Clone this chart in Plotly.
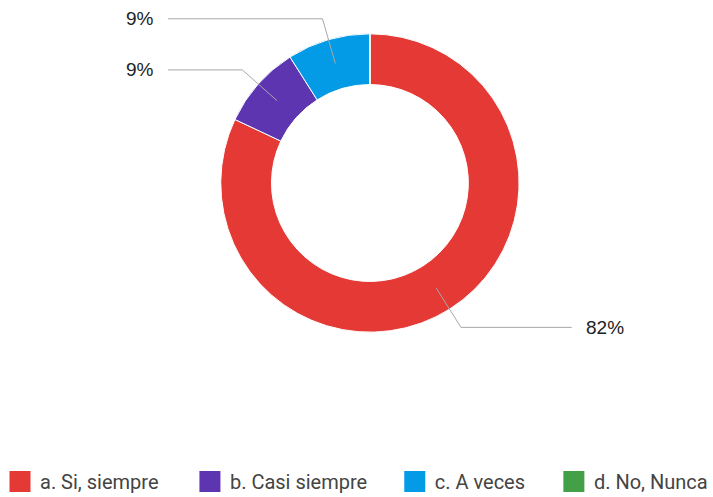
import math
import plotly.graph_objects as go

# ---- data ----
categories = ["a. Si, siempre", "b. Casi siempre", "c. A veces", "d. No, Nunca"]
percentages = [82, 9, 9, 0]
colors = ["#E53935", "#5E35B1", "#039BE5", "#43A047"]

# ---- geometry / style ----
W, H = 713, 501          # a few px taller than the 497 viewport so the legend sits lower
cx, cy, R = 372, 183, 150
hole = 0.66
elbow_out = 21
line_half_span = 203
label_gap = 12
line_color = "#a8a8a8"
legend_item_left_px = [0, 191, 397, 557]

fig = go.Figure()
fig.add_trace(go.Pie(
    labels=categories, values=percentages, hole=hole, sort=False,
    direction="clockwise", rotation=0,
    marker=dict(colors=colors, line=dict(color="white", width=1)),
    textinfo="none", hoverinfo="label+percent", showlegend=False,
    domain=dict(x=[(cx - R) / W, (cx + R) / W], y=[1 - (cy + R) / H, 1 - (cy - R) / H]),
))

# leader lines + labels computed from the data
total = sum(percentages)
cum = 0.0
shapes, annotations = [], []
rm = R * (1 + hole) / 2
re_ = R + elbow_out
for cat, p in zip(categories, percentages):
    start = cum
    cum += p / total
    if p <= 0:
        continue
    a = math.radians((start + cum) / 2 * 360)
    x1, y1 = cx + rm * math.sin(a), cy - rm * math.cos(a)
    x2, y2 = cx + re_ * math.sin(a), cy - re_ * math.cos(a)
    right = math.sin(a) > 0
    x3 = cx + line_half_span if right else cx - line_half_span
    path = "M {:.5f},{:.5f} L {:.5f},{:.5f} L {:.5f},{:.5f}".format(
        x1 / W, 1 - y1 / H, x2 / W, 1 - y2 / H, x3 / W, 1 - y2 / H)
    shapes.append(dict(type="path", xref="paper", yref="paper", path=path,
                       line=dict(color=line_color, width=1)))
    tx = x3 + label_gap if right else x3 - label_gap
    annotations.append(dict(x=tx / W, y=1 - y2 / H, xref="paper", yref="paper",
                            text=f"{p}%", showarrow=False,
                            xanchor="left" if right else "right", yanchor="middle",
                            font=dict(family="Liberation Sans", size=19, color="#222222")))

# legend entries, one small legend per category
legend_layouts = {}
for i, (cat, col) in enumerate(zip(categories, colors)):
    lname = "legend" if i == 0 else f"legend{i + 1}"
    fig.add_trace(go.Scatter(
        x=[None], y=[None], mode="markers", name=cat, legend=lname,
        marker=dict(symbol="square", size=16, color=col, line=dict(color=col, width=5)),
        hoverinfo="skip",
    ))
    legend_layouts[lname] = dict(
        orientation="h", x=legend_item_left_px[i] / W, xanchor="left",
        y=0, yanchor="bottom",
        bgcolor="rgba(0,0,0,0)", borderwidth=0,
        font=dict(family="Roboto", size=20, color="#444444"),
    )

fig.update_layout(
    width=W, height=H, autosize=False,
    margin=dict(l=0, r=0, t=0, b=0),
    paper_bgcolor="white", plot_bgcolor="white",
    xaxis=dict(visible=False), yaxis=dict(visible=False),
    shapes=shapes, annotations=annotations,
    font=dict(family="Roboto", size=20, color="#444444"),
    **legend_layouts,
)

fig.write_html("out.html", config={"displayModeBar": False},
               post_script="document.body.style.margin='0';document.body.style.overflow='hidden';")
